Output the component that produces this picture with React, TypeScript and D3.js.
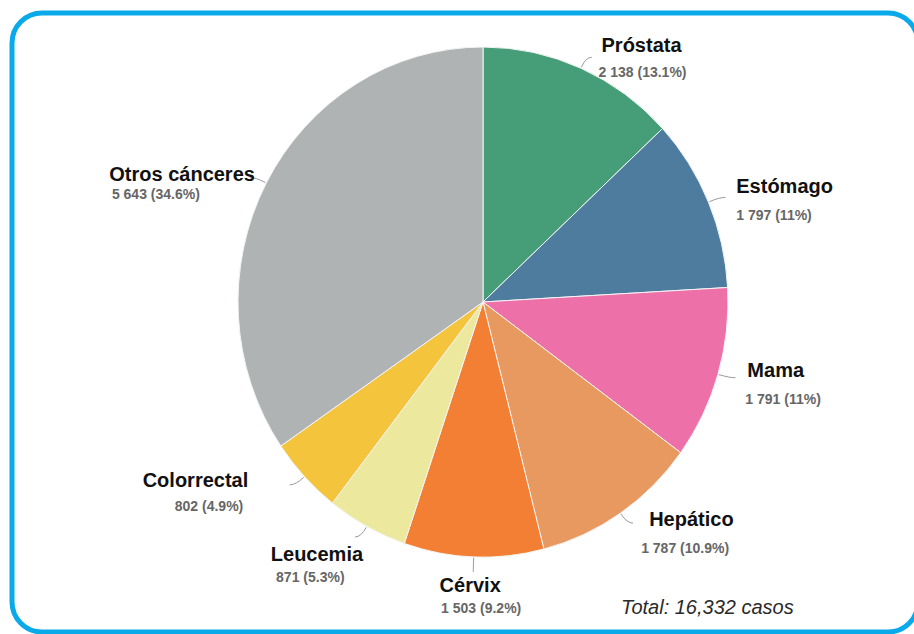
import React, { useEffect, useRef } from "react";
import * as d3 from "d3";

// datos del gráfico
const categories = ["Próstata", "Estómago", "Mama", "Hepático", "Cérvix", "Leucemia", "Colorrectal", "Otros cánceres"];
const cases = [2138, 1797, 1791, 1787, 1503, 871, 802, 5643];
const valueLabels = ["2 138 (13.1%)", "1 797 (11%)", "1 791 (11%)", "1 787 (10.9%)", "1 503 (9.2%)", "871 (5.3%)", "802 (4.9%)", "5 643 (34.6%)"];
const colors = ["#459e78", "#4e7c9e", "#ee70a9", "#e8995f", "#f27f33", "#ece99f", "#f4c43d", "#b0b3b4"];
const totalLabel = "Total: 16,332 casos";

// posición de las etiquetas respecto al final de la línea guía
const labelPos = [
  { name: [55, -3, "middle"], value: [56, 22, "middle"] },
  { name: [15, -4, "start"], value: [15, 23, "start"] },
  { name: [16, -1, "start"], value: [14, 26, "start"] },
  { name: [21, 1, "start"], value: [13, 28, "start"] },
  { name: [-3, 21, "middle"], value: [8, 42, "middle"] },
  { name: [3, 22, "end"], value: [-84, 43, "start"] },
  { name: [-46, 1, "end"], value: [-51, 25, "end"] },
  { name: [1, 4, "end"], value: [-142, 22, "start"] },
];

const App: React.FC = () => {
  const svgRef = useRef<SVGSVGElement | null>(null);

  useEffect(() => {
    const svg = d3.select(svgRef.current);
    svg.selectAll("*").remove();

    const w = 914;
    const h = 634;
    const cx = 483;
    const cy = 302;
    const rx = 245;
    const ry = 255;

    svg.attr("width", w).attr("height", h).style("background", "#fff");

    // marco azul redondeado
    svg.append("rect")
      .attr("x", 12)
      .attr("y", 13)
      .attr("width", 906)
      .attr("height", 619)
      .attr("rx", 30)
      .attr("fill", "none")
      .attr("stroke", "#0aaaea")
      .attr("stroke-width", 5);

    const pie = d3.pie<number>().sort(null).value(d => d);
    const arcs = pie(cases);

    const arc = d3.arc<d3.PieArcDatum<number>>().innerRadius(0).outerRadius(rx);

    const g = svg.append("g")
      .attr("transform", `translate(${cx},${cy}) scale(1,${ry / rx})`);

    g.selectAll("path.slice")
      .data(arcs)
      .enter()
      .append("path")
      .attr("class", "slice")
      .attr("d", arc)
      .attr("fill", (_, i) => colors[i])
      .attr("stroke", "#f4f4f4")
      .attr("stroke-width", 1)
      .attr("vector-effect", "non-scaling-stroke");

    const pt = (a: number, extra: number) => [
      cx + (rx + extra) * Math.sin(a),
      cy - (ry + extra) * Math.cos(a),
    ];

    arcs.forEach((d, i) => {
      const mid = (d.startAngle + d.endAngle) / 2;
      const [x0, y0] = pt(mid, 1);
      const [x1, y1] = pt(mid, 12);
      const side = Math.sin(mid) >= 0 ? 1 : -1;
      const vertical = Math.abs(Math.sin(mid)) < 0.1;
      const x2 = vertical ? x1 : x1 + side * 6;
      const y2 = vertical ? y1 + 3 : y1;

      svg.append("path")
        .attr("d", `M${x0},${y0} Q${x1},${y1} ${x2},${y2}`)
        .attr("fill", "none")
        .attr("stroke", "#9a9a9a")
        .attr("stroke-width", 1);

      const [ox, oy] = pt(mid, 14);
      const lp = labelPos[i];

      svg.append("text")
        .attr("x", ox + (lp.name[0] as number))
        .attr("y", oy + (lp.name[1] as number))
        .attr("text-anchor", lp.name[2] as string)
        .style("font-family", "'Liberation Sans', Arial, sans-serif")
        .style("font-size", "20px")
        .style("font-weight", "bold")
        .style("fill", "#111")
        .text(categories[i]);

      svg.append("text")
        .attr("x", ox + (lp.value[0] as number))
        .attr("y", oy + (lp.value[1] as number))
        .attr("text-anchor", lp.value[2] as string)
        .style("font-family", "'Liberation Sans', Arial, sans-serif")
        .style("font-size", "14px")
        .style("font-weight", "bold")
        .style("fill", "#666")
        .text(valueLabels[i]);
    });

    svg.append("text")
      .attr("x", 621)
      .attr("y", 614)
      .style("font-family", "'Liberation Sans', Arial, sans-serif")
      .style("font-size", "20px")
      .style("font-style", "italic")
      .style("fill", "#2a2a2a")
      .text(totalLabel);
  }, []);

  return (
    <div style={{ position: "absolute", left: 0, top: 0 }}>
      <svg ref={svgRef}></svg>
    </div>
  );
};

export default App;
